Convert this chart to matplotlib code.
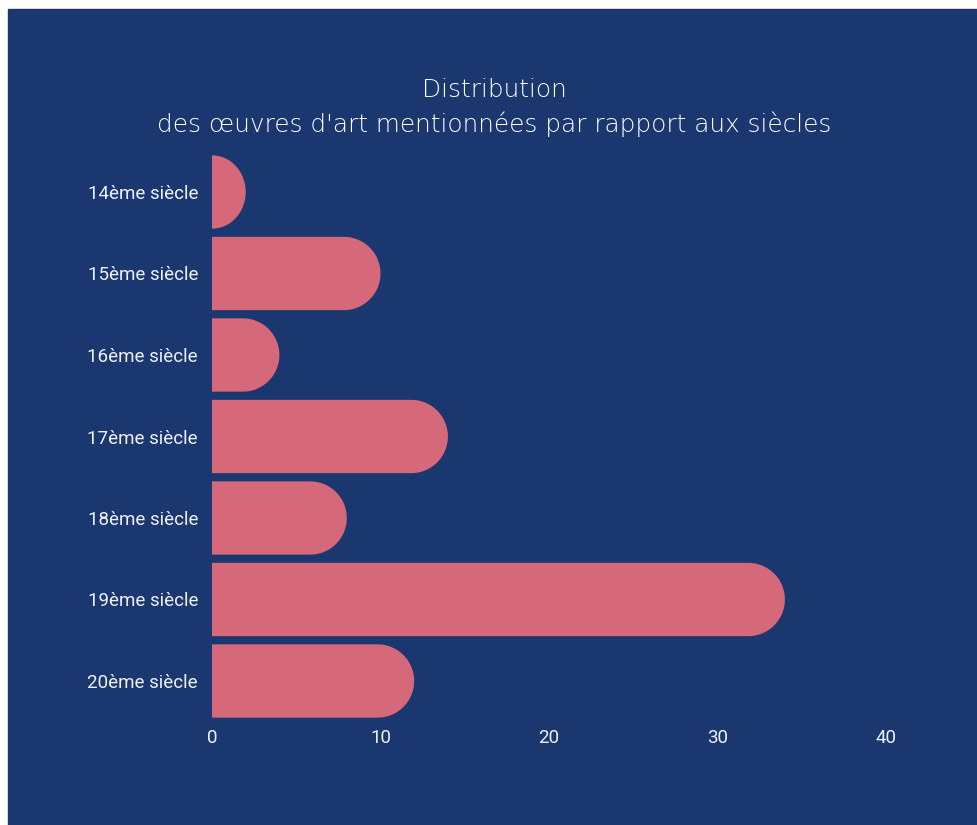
import numpy as np
import matplotlib.pyplot as plt
from matplotlib.patches import Polygon, Rectangle

# data
siecles = ["14ème siècle", "15ème siècle", "16ème siècle", "17ème siècle",
           "18ème siècle", "19ème siècle", "20ème siècle"]
oeuvres = [2, 10, 4, 14, 8, 34, 12]
x_ticks = [0, 10, 20, 30, 40]

bg = "#1b376f"
bar_col = "#d5697a"
txt = "#eef1f8"

W, H = 977, 825
fig = plt.figure(figsize=(W / 100, H / 100), dpi=100)
fig.patch.set_facecolor("white")
# blue panel (thin white strip on top and left)
fig.patches.append(Rectangle((8 / W, 0), 1 - 8 / W, 1 - 9 / H,
                             transform=fig.transFigure, color=bg, zorder=0))

left, right = 212 / W, 886 / W
top, bottom = 151.25 / H, 721.75 / H
ax = fig.add_axes([left, 1 - bottom, right - left, bottom - top])
ax.set_zorder(2)
ax.set_facecolor("none")
ax.set_xlim(0, 40)
ax.set_ylim(len(siecles) - 0.5, -0.5)

bar_h = 0.9
# radius of the round end in x data units, so it stays circular on screen
ax_w_px = (right - left) * W
ax_h_px = (bottom - top) * H
px_per_x = ax_w_px / 40
px_per_y = ax_h_px / len(siecles)
rx_full = (bar_h / 2) * px_per_y / px_per_x

t = np.linspace(np.pi / 2, -np.pi / 2, 60)
for i, v in enumerate(oeuvres):
    rx = min(rx_full, v)
    flat = v - rx
    pts = [(0, i - bar_h / 2), (flat, i - bar_h / 2)]
    pts += [(flat + rx * np.cos(a), i - (bar_h / 2) * np.sin(a)) for a in t]
    pts += [(flat, i + bar_h / 2), (0, i + bar_h / 2)]
    ax.add_patch(Polygon(pts, closed=True, facecolor=bar_col, edgecolor="none"))

ax.set_yticks(range(len(siecles)))
ax.set_yticklabels(siecles)
ax.set_xticks(x_ticks)
ax.tick_params(length=0, colors=txt, labelsize=13.5)
ax.tick_params(axis="y", pad=10)
ax.tick_params(axis="x", pad=5)
for lab in ax.get_xticklabels() + ax.get_yticklabels():
    lab.set_fontfamily("Roboto")
    lab.set_color(txt)
for s in ax.spines.values():
    s.set_visible(False)

fig.text(494 / W, 1 - 90 / H, "Distribution", ha="center", va="center",
         color="white", fontsize=17.8, fontfamily="DejaVu Sans", fontweight="light")
fig.text(494 / W, 1 - 124 / H,
         "des œuvres d'art mentionnées par rapport aux siècles",
         ha="center", va="center", color="white", fontsize=17.8,
         fontfamily="DejaVu Sans", fontweight="light")

fig.savefig("out.png", dpi=100, facecolor=fig.get_facecolor())
